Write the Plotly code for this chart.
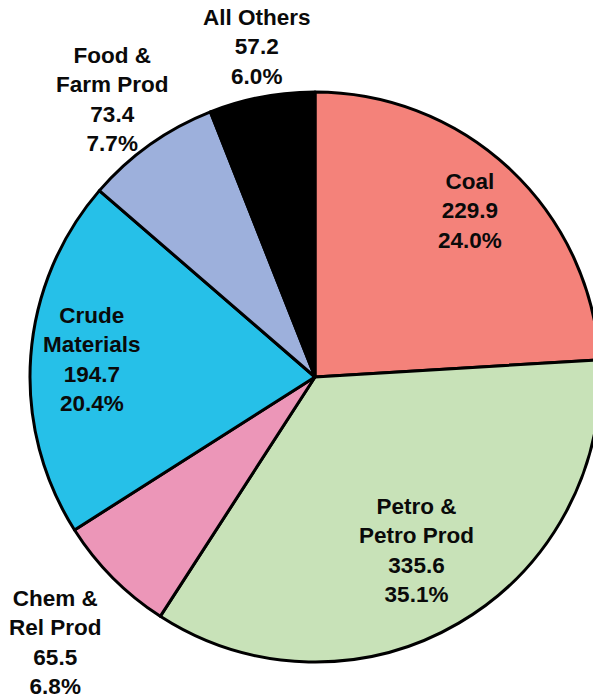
import plotly.graph_objects as go

categories = ["Coal", "Petro &<br>Petro Prod", "Chem &<br>Rel Prod", "Crude<br>Materials",
              "Food &<br>Farm Prod", "All Others"]
values = [229.9, 335.6, 65.5, 194.7, 73.4, 57.2]
colors = ["#F4827A", "#C8E2B8", "#EC96B8", "#26C0E8", "#9DB0DC", "#000000"]

# label block centres (pixels in the 630x700 figure)
label_px = [(470, 211), (416, 550), (55, 642), (92, 360), (112, 99), (257, 47)]

W, H = 630, 700
total = sum(values)

fig = go.Figure(go.Pie(
    labels=categories, values=values, sort=False, direction="clockwise", rotation=0,
    marker=dict(colors=colors, line=dict(color="#000000", width=3)),
    textinfo="none", hoverinfo="label+value+percent", showlegend=False,
    domain=dict(x=[0, 1], y=[38 / H, (H - 92) / H]),
))

for cat, val, (px, py) in zip(categories, values, label_px):
    fig.add_annotation(
        x=px / W, y=1 - py / H, xref="paper", yref="paper",
        text=f"<b>{cat}<br>{val:.1f}<br>{val / total * 100:.1f}%</b>",
        showarrow=False, xanchor="center", yanchor="middle", align="center",
        font=dict(family="Liberation Sans, Arial, sans-serif", size=22.5, color="#0a0a0a"),
    )

fig.update_layout(width=W, height=H, margin=dict(l=0, r=0, t=0, b=0),
                  paper_bgcolor="white", plot_bgcolor="white")

fig.write_html("out.html", config={"displayModeBar": False},
               post_script="document.body.style.overflow='hidden';document.body.style.margin='0';")
